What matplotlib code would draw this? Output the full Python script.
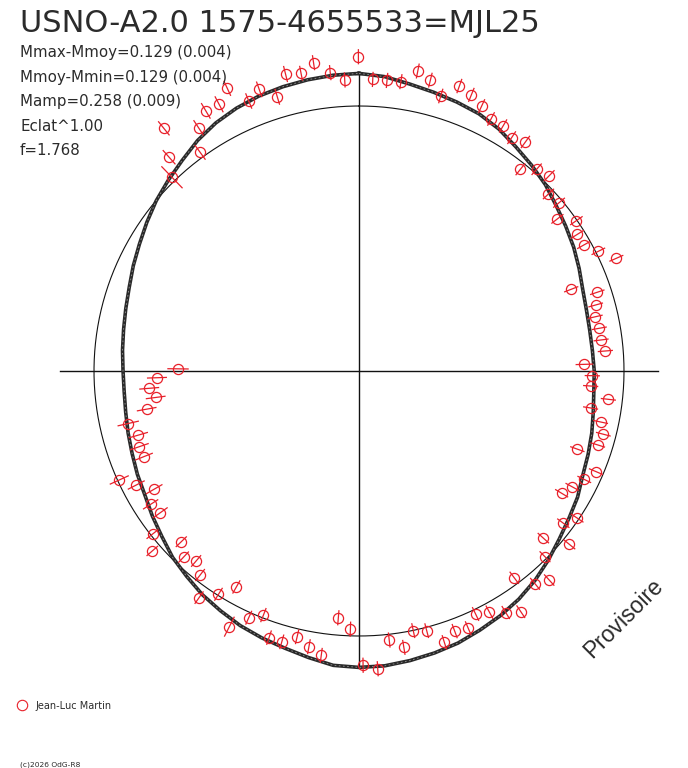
import numpy as np
import matplotlib.pyplot as plt
from matplotlib.collections import LineCollection

W, H = 688, 768
CX, CY = 359, 371        # centre du diagramme, en pixels
R0 = 265                 # rayon du cercle de magnitude moyenne, en pixels
K = 238 / R0             # rayon (unite = R0) par magnitude

titre = "USNO-A2.0 1575-4655533=MJL25"
stats = ["Mmax-Mmoy=0.129 (0.004)", "Mmoy-Mmin=0.129 (0.004)",
         "Mamp=0.258 (0.009)", "Eclat^1.00", "f=1.768"]
observateur = "Jean-Luc Martin"
copyright_txt = "(c)2026 OdG-R8"

# courbe ajustee (ecart a la magnitude moyenne), tous les 5 degres de phase
fit_deg = [0, 5, 10, 15, 20, 25, 30, 35, 40, 45, 50, 55,
           60, 65, 70, 75, 80, 85, 90, 95, 100, 105, 110, 115,
           120, 125, 130, 135, 140, 145, 150, 155, 160, 165, 170, 175,
           180, 185, 190, 195, 200, 205, 210, 215, 220, 225, 230, 235,
           240, 245, 250, 255, 260, 265, 270, 275, 280, 285, 290, 295,
           300, 305, 310, 315, 320, 325, 330, 335, 340, 345, 350, 355]
fit_dmag = [0.137, 0.128, 0.111, 0.099, 0.089, 0.079, 0.061, 0.036, 0.015, -0.006, -0.032, -0.053,
            -0.072, -0.093, -0.113, -0.124, -0.129, -0.129, -0.125, -0.123, -0.114, -0.101, -0.089, -0.076,
            -0.053, -0.036, -0.015, 0.011, 0.036, 0.057, 0.074, 0.088, 0.103, 0.113, 0.122, 0.130,
            0.132, 0.128, 0.109, 0.092, 0.080, 0.067, 0.050, 0.034, 0.013, -0.006, -0.032, -0.053,
            -0.074, -0.086, -0.099, -0.109, -0.118, -0.123, -0.122, -0.116, -0.109, -0.099, -0.086, -0.067,
            -0.048, -0.025, -0.001, 0.020, 0.042, 0.069, 0.090, 0.105, 0.116, 0.123, 0.129, 0.134]

# mesures : phase, ecart a la magnitude moyenne, incertitude
phase = [0.0075, 0.0153, 0.0229, 0.0308, 0.0383, 0.0460, 0.0539, 0.0615, 0.0690, 0.0768,
         0.0846, 0.0922, 0.1000, 0.1074, 0.1149, 0.1229, 0.1304, 0.1387, 0.1459, 0.1537,
         0.1610, 0.1687, 0.1762, 0.1843, 0.1915, 0.1992, 0.2067, 0.2141, 0.2220, 0.2297,
         0.2371, 0.2453, 0.2532, 0.2603, 0.2680, 0.2752, 0.2831, 0.2903, 0.2978, 0.3047,
         0.3139, 0.3214, 0.3292, 0.3364, 0.3444, 0.3519, 0.3597, 0.3672, 0.3749, 0.3825,
         0.3900, 0.3975, 0.4058, 0.4131, 0.4211, 0.4288, 0.4361, 0.4439, 0.4515, 0.4594,
         0.4672, 0.4744, 0.4822, 0.4900, 0.4978, 0.5053, 0.5133, 0.5210, 0.5286, 0.5364,
         0.5442, 0.5518, 0.5594, 0.5669, 0.5747, 0.5822, 0.5894, 0.5978, 0.6053, 0.6128,
         0.6203, 0.6282, 0.6360, 0.6436, 0.6514, 0.6594, 0.6667, 0.6747, 0.6821, 0.6897,
         0.6972, 0.7050, 0.7144, 0.7217, 0.7294, 0.7369, 0.7447, 0.7519, 0.8778, 0.8844,
         0.8922, 0.9000, 0.9072, 0.9153, 0.9231, 0.9306, 0.9383, 0.9458, 0.9539, 0.9614,
         0.9694, 0.9767, 0.9847, 0.9922, 0.9997]
dmag = [0.113, 0.113, 0.115, 0.171, 0.145, 0.092, 0.156, 0.139, 0.113, 0.082,
        0.081, 0.058, 0.076, -0.028, 0.016, 0.032, -0.024, -0.015, -0.063, -0.003,
        -0.031, -0.031, 0.011, 0.067, -0.158, -0.059, -0.081, -0.095, -0.088, -0.088,
        -0.075, -0.166, -0.133, -0.138, -0.059, -0.128, -0.076, -0.053, -0.063, -0.139,
        -0.032, -0.063, -0.094, -0.119, -0.008, -0.043, 0.032, -0.068, -0.009, 0.074,
        0.047, -0.027, 0.105, 0.074, 0.039, 0.019, 0.061, 0.051, 0.082, 0.014,
        0.001, 0.063, 0.024, 0.140, 0.123, -0.028, -0.073, 0.092, 0.064, 0.033,
        0.070, 0.069, -0.012, 0.022, 0.091, -0.070, -0.005, 0.052, -0.027, -0.062,
        -0.039, -0.078, 0.038, -0.008, -0.088, -0.074, -0.120, -0.062, -0.007, -0.141,
        -0.137, -0.148, -0.119, -0.207, -0.252, -0.229, -0.264, -0.353, 0.018, 0.088,
        0.195, 0.022, 0.111, 0.155, 0.152, 0.197, 0.112, 0.142, 0.089, 0.172,
        0.161, 0.196, 0.146, 0.111, 0.207]
err = [0.032, 0.032, 0.032, 0.032, 0.032, 0.032, 0.032, 0.032, 0.032, 0.032,
       0.032, 0.032, 0.032, 0.032, 0.032, 0.032, 0.032, 0.032, 0.032, 0.032,
       0.032, 0.032, 0.032, 0.032, 0.032, 0.032, 0.032, 0.032, 0.032, 0.032,
       0.032, 0.037, 0.032, 0.032, 0.032, 0.032, 0.032, 0.032, 0.032, 0.032,
       0.032, 0.032, 0.032, 0.032, 0.032, 0.032, 0.032, 0.032, 0.032, 0.032,
       0.032, 0.032, 0.032, 0.032, 0.032, 0.032, 0.032, 0.032, 0.032, 0.032,
       0.032, 0.032, 0.032, 0.032, 0.032, 0.032, 0.032, 0.032, 0.032, 0.032,
       0.032, 0.032, 0.032, 0.032, 0.047, 0.032, 0.032, 0.032, 0.032, 0.032,
       0.032, 0.032, 0.032, 0.032, 0.038, 0.038, 0.040, 0.040, 0.044, 0.040,
       0.042, 0.042, 0.046, 0.042, 0.042, 0.042, 0.042, 0.045, 0.064, 0.040,
       0.038, 0.038, 0.038, 0.038, 0.038, 0.035, 0.035, 0.035, 0.035, 0.035,
       0.032, 0.032, 0.032, 0.032, 0.032]

fig = plt.figure(figsize=(W / 100, H / 100), dpi=100)
ax = fig.add_axes([0, 0, 1, 1])
ax.set_xlim(-CX / R0, (W - CX) / R0)
ax.set_ylim(-(H - CY) / R0, CY / R0)
ax.set_aspect("equal")
ax.axis("off")

# axes du diagramme
ax.plot([-299 / R0, 299 / R0], [0, 0], color="#111111", lw=1.0)
ax.plot([0, 0], [-297 / R0, 297 / R0], color="#111111", lw=1.0)
ax.plot([-4 / R0, 4 / R0], [297 / R0, 297 / R0], color="#111111", lw=1.0)

# cercle de magnitude moyenne
t = np.linspace(0, 2 * np.pi, 400)
ax.plot(np.sin(t), np.cos(t), color="#111111", lw=0.8)

# courbe ajustee
a = np.radians(fit_deg + [fit_deg[0]])
rf = 1 + K * np.array(fit_dmag + [fit_dmag[0]])
ax.plot(rf * np.sin(a), rf * np.cos(a), color="#2a2a2a", lw=2.6, solid_joinstyle="round")
ax.plot(rf * np.sin(a), rf * np.cos(a), color="white", lw=0.6, alpha=0.5, ls=(0, (2, 3)))

# mesures avec barres d'erreur radiales
ang = 2 * np.pi * np.array(phase)
r = 1 + K * np.array(dmag)
e = K * np.array(err)
seg = [[((ri - ei) * np.sin(ai), (ri - ei) * np.cos(ai)),
        ((ri + ei) * np.sin(ai), (ri + ei) * np.cos(ai))] for ai, ri, ei in zip(ang, r, e)]
ax.add_collection(LineCollection(seg, colors="#e8202a", linewidths=0.9))
ax.plot(r * np.sin(ang), r * np.cos(ang), "o", mfc="none", mec="#e8202a", ms=7.3, mew=0.9)

# textes
fig.text(20 / W, 1 - 32 / H, titre, fontsize=22, color="#2b2b2b", family="DejaVu Sans")
for i, s in enumerate(stats):
    fig.text(20 / W, 1 - (57 + 24.6 * i) / H, s, fontsize=10.8, color="#2b2b2b",
             family="DejaVu Sans")

fig.text(624 / W, 1 - 618 / H, "Provisoire", fontsize=16.5, color="#2b2b2b", rotation=45,
         ha="center", va="center", rotation_mode="anchor", family="Liberation Sans")

ax.plot([(22 - CX) / R0], [(CY - 705) / R0], "o", mfc="none", mec="#e8202a", ms=7.5, mew=0.8)
fig.text(35 / W, 1 - 709 / H, observateur, fontsize=7, color="#2b2b2b", family="DejaVu Sans")
fig.text(20 / W, 1 - 766 / H, copyright_txt, fontsize=5.4, color="#2b2b2b", family="DejaVu Sans")

fig.savefig("out.png", dpi=100)
